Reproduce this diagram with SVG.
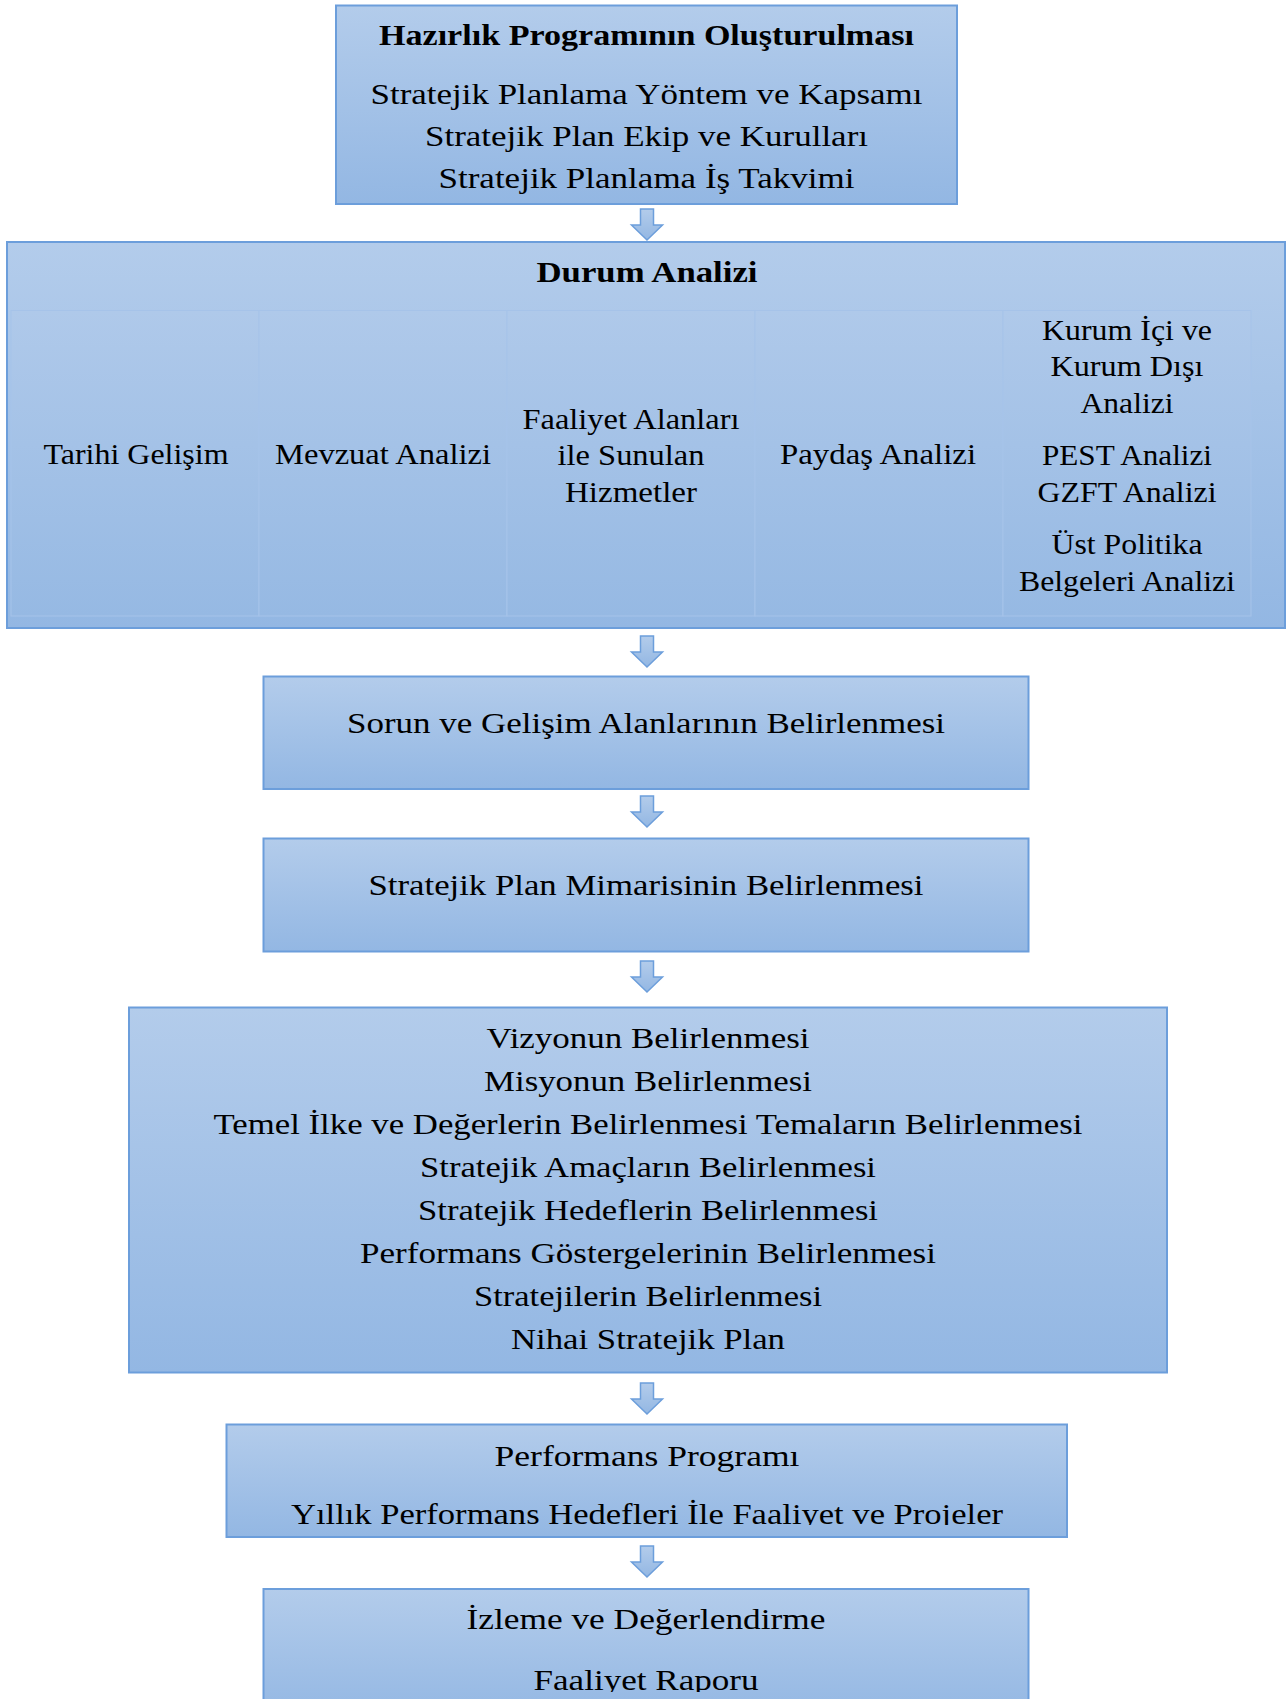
<svg xmlns="http://www.w3.org/2000/svg" width="1287" height="1699" viewBox="0 0 1287 1699">
<defs>
<linearGradient id="g" x1="0" y1="0" x2="0" y2="1">
<stop offset="0" stop-color="#b3cceb"/>
<stop offset="1" stop-color="#93b7e3"/>
</linearGradient>
<linearGradient id="gc" x1="0" y1="0" x2="0" y2="1">
<stop offset="0" stop-color="#afc9ea"/>
<stop offset="1" stop-color="#96b9e3"/>
</linearGradient>
<clipPath id="clipPerf"><rect x="226" y="1424" width="842" height="101"/></clipPath>
<clipPath id="clipIz"><rect x="263" y="1588" width="767" height="104"/></clipPath>
<style>
.box{fill:url(#g);stroke:#6c9edb;stroke-width:2}
.cell{fill:url(#gc);stroke:#a6c3e9;stroke-width:1}
.arr{fill:url(#g);stroke:#6c9edb;stroke-width:1.5;stroke-linejoin:miter}
text{font-family:"Liberation Serif","Times New Roman",serif;font-size:30px;fill:#000;text-anchor:middle}
.b{font-weight:bold}
</style>
</defs>
<g id="connectors">
<path class="arr" d="M640.5,209 H653.5 V225 H662.5 L647,240 L631.5,225 H640.5 Z"/>
<path class="arr" d="M640.5,636 H653.5 V652 H662.5 L647,667 L631.5,652 H640.5 Z"/>
<path class="arr" d="M640.5,796 H653.5 V812 H662.5 L647,827 L631.5,812 H640.5 Z"/>
<path class="arr" d="M640.5,961 H653.5 V977 H662.5 L647,992 L631.5,977 H640.5 Z"/>
<path class="arr" d="M640.5,1383 H653.5 V1399 H662.5 L647,1414 L631.5,1399 H640.5 Z"/>
<path class="arr" d="M640.5,1546 H653.5 V1562 H662.5 L647,1577 L631.5,1562 H640.5 Z"/>
</g>
<g id="hazirlik">
<rect class="box" x="336" y="5.5" width="621" height="198.5"/>
<text class="b" x="646.5" y="45" textLength="535" lengthAdjust="spacingAndGlyphs">Hazırlık Programının Oluşturulması</text>
<text x="646.5" y="104" textLength="552" lengthAdjust="spacingAndGlyphs">Stratejik Planlama Yöntem ve Kapsamı</text>
<text x="646.5" y="146" textLength="443" lengthAdjust="spacingAndGlyphs">Stratejik Plan Ekip ve Kurulları</text>
<text x="646.5" y="188" textLength="416" lengthAdjust="spacingAndGlyphs">Stratejik Planlama İş Takvimi</text>
</g>
<g id="durum">
<rect class="box" x="7" y="242" width="1278" height="386"/>
<text class="b" x="647" y="282" textLength="221" lengthAdjust="spacingAndGlyphs">Durum Analizi</text>
<g id="tarihi">
<rect class="cell" x="11" y="310.5" width="248" height="305.5"/>
<text x="136" y="464" textLength="185" lengthAdjust="spacingAndGlyphs">Tarihi Gelişim</text>
</g>
<g id="mevzuat">
<rect class="cell" x="259" y="310.5" width="248" height="305.5"/>
<text x="383" y="464" textLength="216" lengthAdjust="spacingAndGlyphs">Mevzuat Analizi</text>
</g>
<g id="faaliyet">
<rect class="cell" x="507" y="310.5" width="248" height="305.5"/>
<text x="631" y="429" textLength="217" lengthAdjust="spacingAndGlyphs">Faaliyet Alanları</text>
<text x="631" y="465" textLength="147" lengthAdjust="spacingAndGlyphs">ile Sunulan</text>
<text x="631" y="502" textLength="132" lengthAdjust="spacingAndGlyphs">Hizmetler</text>
</g>
<g id="paydas">
<rect class="cell" x="755" y="310.5" width="248" height="305.5"/>
<text x="878" y="464" textLength="196" lengthAdjust="spacingAndGlyphs">Paydaş Analizi</text>
</g>
<g id="kurum">
<rect class="cell" x="1003" y="310.5" width="248" height="305.5"/>
<text x="1127" y="340" textLength="170" lengthAdjust="spacingAndGlyphs">Kurum İçi ve</text>
<text x="1127" y="376" textLength="153" lengthAdjust="spacingAndGlyphs">Kurum Dışı</text>
<text x="1127" y="413" textLength="93" lengthAdjust="spacingAndGlyphs">Analizi</text>
<text x="1127" y="465" textLength="170" lengthAdjust="spacingAndGlyphs">PEST Analizi</text>
<text x="1127" y="502" textLength="179" lengthAdjust="spacingAndGlyphs">GZFT Analizi</text>
<text x="1127" y="554" textLength="151" lengthAdjust="spacingAndGlyphs">Üst Politika</text>
<text x="1127" y="591" textLength="216" lengthAdjust="spacingAndGlyphs">Belgeleri Analizi</text>
</g>
</g>
<g id="sorun">
<rect class="box" x="263.5" y="676.5" width="765" height="112.5"/>
<text x="646" y="733" textLength="598" lengthAdjust="spacingAndGlyphs">Sorun ve Gelişim Alanlarının Belirlenmesi</text>
</g>
<g id="mimari">
<rect class="box" x="263.5" y="838.5" width="765" height="113"/>
<text x="646" y="895" textLength="555" lengthAdjust="spacingAndGlyphs">Stratejik Plan Mimarisinin Belirlenmesi</text>
</g>
<g id="vizyon">
<rect class="box" x="129" y="1007.5" width="1038" height="365"/>
<text x="648" y="1048" textLength="323" lengthAdjust="spacingAndGlyphs">Vizyonun Belirlenmesi</text>
<text x="648" y="1091" textLength="328" lengthAdjust="spacingAndGlyphs">Misyonun Belirlenmesi</text>
<text x="648" y="1134" textLength="869" lengthAdjust="spacingAndGlyphs">Temel İlke ve Değerlerin Belirlenmesi Temaların Belirlenmesi</text>
<text x="648" y="1177" textLength="456" lengthAdjust="spacingAndGlyphs">Stratejik Amaçların Belirlenmesi</text>
<text x="648" y="1220" textLength="460" lengthAdjust="spacingAndGlyphs">Stratejik Hedeflerin Belirlenmesi</text>
<text x="648" y="1263" textLength="576" lengthAdjust="spacingAndGlyphs">Performans Göstergelerinin Belirlenmesi</text>
<text x="648" y="1306" textLength="348" lengthAdjust="spacingAndGlyphs">Stratejilerin Belirlenmesi</text>
<text x="648" y="1349" textLength="274" lengthAdjust="spacingAndGlyphs">Nihai Stratejik Plan</text>
</g>
<g id="performans">
<rect class="box" x="226.5" y="1424.5" width="840.5" height="112.5"/>
<g clip-path="url(#clipPerf)">
<text x="647" y="1466" textLength="305" lengthAdjust="spacingAndGlyphs">Performans Programı</text>
<text x="647" y="1524" textLength="712" lengthAdjust="spacingAndGlyphs">Yıllık Performans Hedefleri İle Faaliyet ve Projeler</text>
</g>
</g>
<g id="izleme">
<rect class="box" x="263.5" y="1589" width="765" height="130"/>
<g clip-path="url(#clipIz)">
<text x="646" y="1629" textLength="359" lengthAdjust="spacingAndGlyphs">İzleme ve Değerlendirme</text>
<text x="646" y="1690" textLength="225" lengthAdjust="spacingAndGlyphs">Faaliyet Raporu</text>
</g>
</g>
</svg>
